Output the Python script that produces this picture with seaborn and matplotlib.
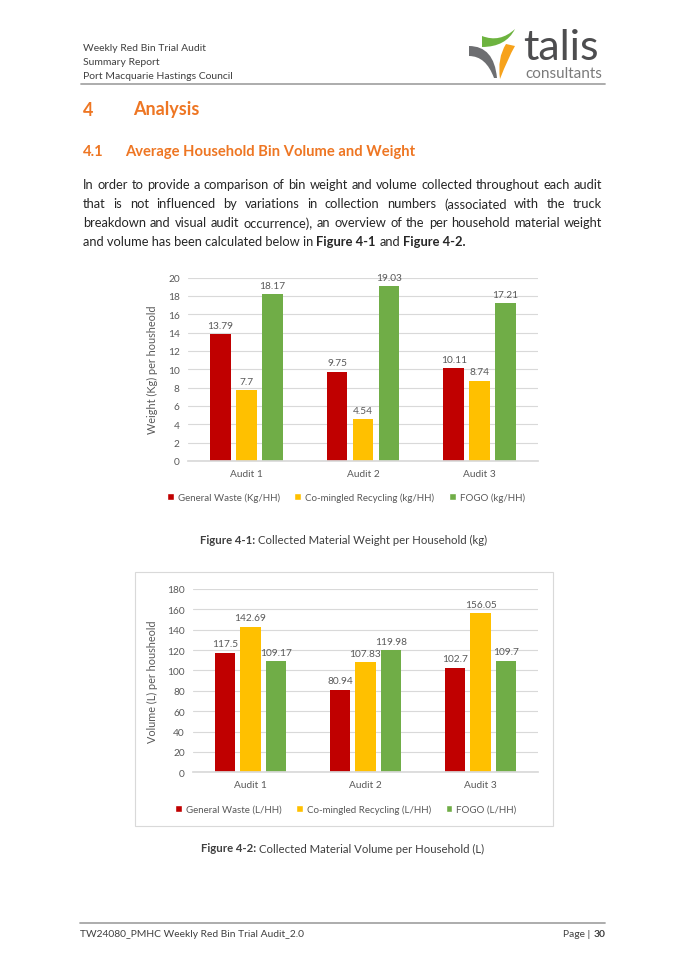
import numpy as np
import pandas as pd
import matplotlib
matplotlib.use("Agg")
import matplotlib.pyplot as plt
from matplotlib.path import Path
from matplotlib.patches import PathPatch, Patch, Rectangle
from matplotlib.lines import Line2D
import seaborn as sns

# chart data
audits = ["Audit 1", "Audit 2", "Audit 3"]

weight_streams = ["General Waste (Kg/HH)", "Co-mingled Recycling (kg/HH)", "FOGO (kg/HH)"]
general_waste_kg = [13.79, 9.75, 10.11]
recycling_kg = [7.7, 4.54, 8.74]
fogo_kg = [18.17, 19.03, 17.21]

volume_streams = ["General Waste (L/HH)", "Co-mingled Recycling (L/HH)", "FOGO (L/HH)"]
general_waste_l = [117.5, 80.94, 102.7]
recycling_l = [142.69, 107.83, 156.05]
fogo_l = [109.17, 119.98, 109.7]

stream_colors = ["#C00000", "#FFC000", "#70AD47"]

W, H = 685, 970
ORANGE = "#EE7623"
TEXT = "#262626"
GREY = "#595959"

sns.set_theme(style="white")
plt.rcParams["font.family"] = ["Lato", "DejaVu Sans"]

fig = plt.figure(figsize=(W / 100, H / 100), dpi=100)
renderer = fig.canvas.get_renderer()


def fx(x):
    return x / W


def fy(y):
    return 1 - y / H


def put(x, y, s, **kw):
    kw.setdefault("va", "center")
    return fig.text(fx(x), fy(y), s, **kw)


def width_of(s, size, weight="normal"):
    t = fig.text(0, 0, s, fontsize=size, fontweight=weight)
    w = t.get_window_extent(renderer).width
    t.remove()
    return w


# parts: list of (text, weight); justified over x0..x1 when x1 is given
def runs_line(y, parts, size, x0, x1=None, ha="left", color=TEXT):
    ws = [width_of(s, size, wt) for s, wt in parts]
    sp = width_of("a a", size) - width_of("aa", size)
    if x1 is not None and len(parts) > 1:
        sp = (x1 - x0 - sum(ws)) / (len(parts) - 1)
    total = sum(ws) + sp * (len(parts) - 1)
    if ha == "center":
        x = x0 - total / 2
    elif ha == "right":
        x = x0 - total
    else:
        x = x0
    for (s, wt), wd in zip(parts, ws):
        put(x, y, s, fontsize=size, fontweight=wt, color=color)
        x += wd + sp


def words(s, weight="normal"):
    return [(w, weight) for w in s.split()]


# page header
for yy, s in zip([48.3, 62.7, 76.7], ["Weekly Red Bin Trial Audit", "Summary Report",
                                      "Port Macquarie Hastings Council"]):
    put(83, yy, s, fontsize=7.5, color="#404040")
fig.add_artist(Line2D([fx(81), fx(605)], [fy(85), fy(85)], color="#A6A6A6", lw=1.3))

# logo
lg = fig.add_axes([fx(460), fy(90), 150 / W, 65 / H])
lg.set_xlim(460, 610)
lg.set_ylim(90, 25)
lg.axis("off")


def swoosh(verts, codes, color):
    lg.add_patch(PathPatch(Path(verts, codes), facecolor=color, edgecolor="none"))


C = Path.CURVE3
swoosh([(469, 47), (494, 47), (497, 79), (494, 79), (486, 57), (469, 57), (469, 47)],
       [Path.MOVETO, C, C, Path.LINETO, C, C, Path.CLOSEPOLY], "#6D6E71")
swoosh([(482, 37), (500, 44), (515, 30), (506, 48), (482, 48), (482, 37)],
       [Path.MOVETO, C, C, C, C, Path.CLOSEPOLY], "#6DB33F")
swoosh([(506, 45), (497, 59), (500, 80), (508, 59), (515, 47), (506, 45)],
       [Path.MOVETO, C, C, C, C, Path.CLOSEPOLY], "#F7A21B")
lg.text(523, 66.5, "talis", fontsize=31, color="#4D4D4F", va="bottom")
lg.text(525, 66.5, "consultants", fontsize=11, color="#7A7A7A", va="top")

# headings
put(83, 110, "4", fontsize=13, fontweight="bold", color=ORANGE)
put(133, 110, "Analysis", fontsize=13, fontweight="bold", color=ORANGE)
put(83, 152, "4.1", fontsize=10.6, fontweight="bold", color=ORANGE)
put(125, 152, "Average Household Bin Volume and Weight", fontsize=10.6, fontweight="bold", color=ORANGE)

# paragraph
para = [
    "In order to provide a comparison of bin weight and volume collected throughout each audit",
    "that is not influenced by variations in collection numbers (associated with the truck",
    "breakdown and visual audit occurrence), an overview of the per household material weight",
]
body = 10 * 519 / (width_of(para[0], 10))
for yy, line in zip([185, 204.3, 223.3], para):
    runs_line(yy, words(line), body, 83, 602)
runs_line(242, [("and volume has been calculated below in", "normal"), ("Figure 4-1", "bold"),
                ("and", "normal"), ("Figure 4-2.", "bold")], body, 83)


def bar_chart(rect, streams, series, ymax, ystep, ylabel, label_x, legend_xy):
    ax = fig.add_axes(rect)
    df = pd.DataFrame({
        "audit": np.tile(audits, len(streams)),
        "stream": np.repeat(streams, len(audits)),
        "value": np.concatenate(series),
    })
    sns.barplot(data=df, x="audit", y="value", hue="stream", hue_order=streams,
                palette=stream_colors, saturation=1, width=0.665, gap=0.2, errorbar=None,
                linewidth=0, legend=False, ax=ax)
    ax.set_ylim(0, ymax)
    ax.set_yticks(np.arange(0, ymax + 1, ystep))
    ax.grid(axis="y", color="#D9D9D9", linewidth=0.8)
    ax.set_axisbelow(True)
    sns.despine(ax=ax, left=True)
    ax.spines["bottom"].set_color("#D9D9D9")
    ax.tick_params(axis="y", length=0, labelsize=7.3, labelcolor=GREY, pad=6)
    ax.tick_params(axis="x", length=0, labelsize=7.3, labelcolor=GREY, pad=5.5)
    ax.set_xlabel("")
    ax.set_ylabel(ylabel, fontsize=7.8, color=GREY)
    ax.yaxis.set_label_coords(label_x, 0.5)
    for cont in ax.containers:
        ax.bar_label(cont, fmt="{:g}", padding=3.3, fontsize=7.3, color=GREY)
    handles = [Patch(facecolor=c) for c in stream_colors]
    ax.legend(handles, streams, loc="center", bbox_to_anchor=legend_xy, ncol=3, frameon=False,
              fontsize=7, labelcolor=GREY, handlelength=0.7, handleheight=0.7,
              handletextpad=0.4, columnspacing=1.5)
    return ax


bar_chart([fx(188), fy(462), 350 / W, 183.5 / H], weight_streams,
          [general_waste_kg, recycling_kg, fogo_kg], 20, 2,
          "Weight (Kg) per housheold", -0.086, (0.451, -0.196))
runs_line(540.4, [("Figure 4-1:", "bold"), ("Collected Material Weight per Household (kg)", "normal")],
          8.2, 343.5, ha="center", color="#404040")

fig.add_artist(Rectangle((fx(135), fy(827)), (553 - 135) / W, (827 - 573) / H,
                         transform=fig.transFigure, fill=False, edgecolor="#D9D9D9", lw=0.8))
bar_chart([fx(193), fy(773.3), 345 / W, 183.3 / H], volume_streams,
          [general_waste_l, recycling_l, fogo_l], 180, 20,
          "Volume (L) per housheold", -0.1, (0.443, -0.2))
runs_line(849, [("Figure 4-2:", "bold"), ("Collected Material Volume per Household (L)", "normal")],
          8.2, 343, ha="center", color="#404040")

# footer
fig.add_artist(Line2D([fx(80), fx(605)], [fy(924), fy(924)], color="#A6A6A6", lw=1.3))
put(80, 935, "TW24080_PMHC Weekly Red Bin Trial Audit_2.0", fontsize=7.4, color="#404040")
runs_line(935, [("Page |", "normal"), ("30", "bold")], 7.4, 605, ha="right", color="#404040")

fig.savefig("out.png", dpi=100, facecolor="white")
